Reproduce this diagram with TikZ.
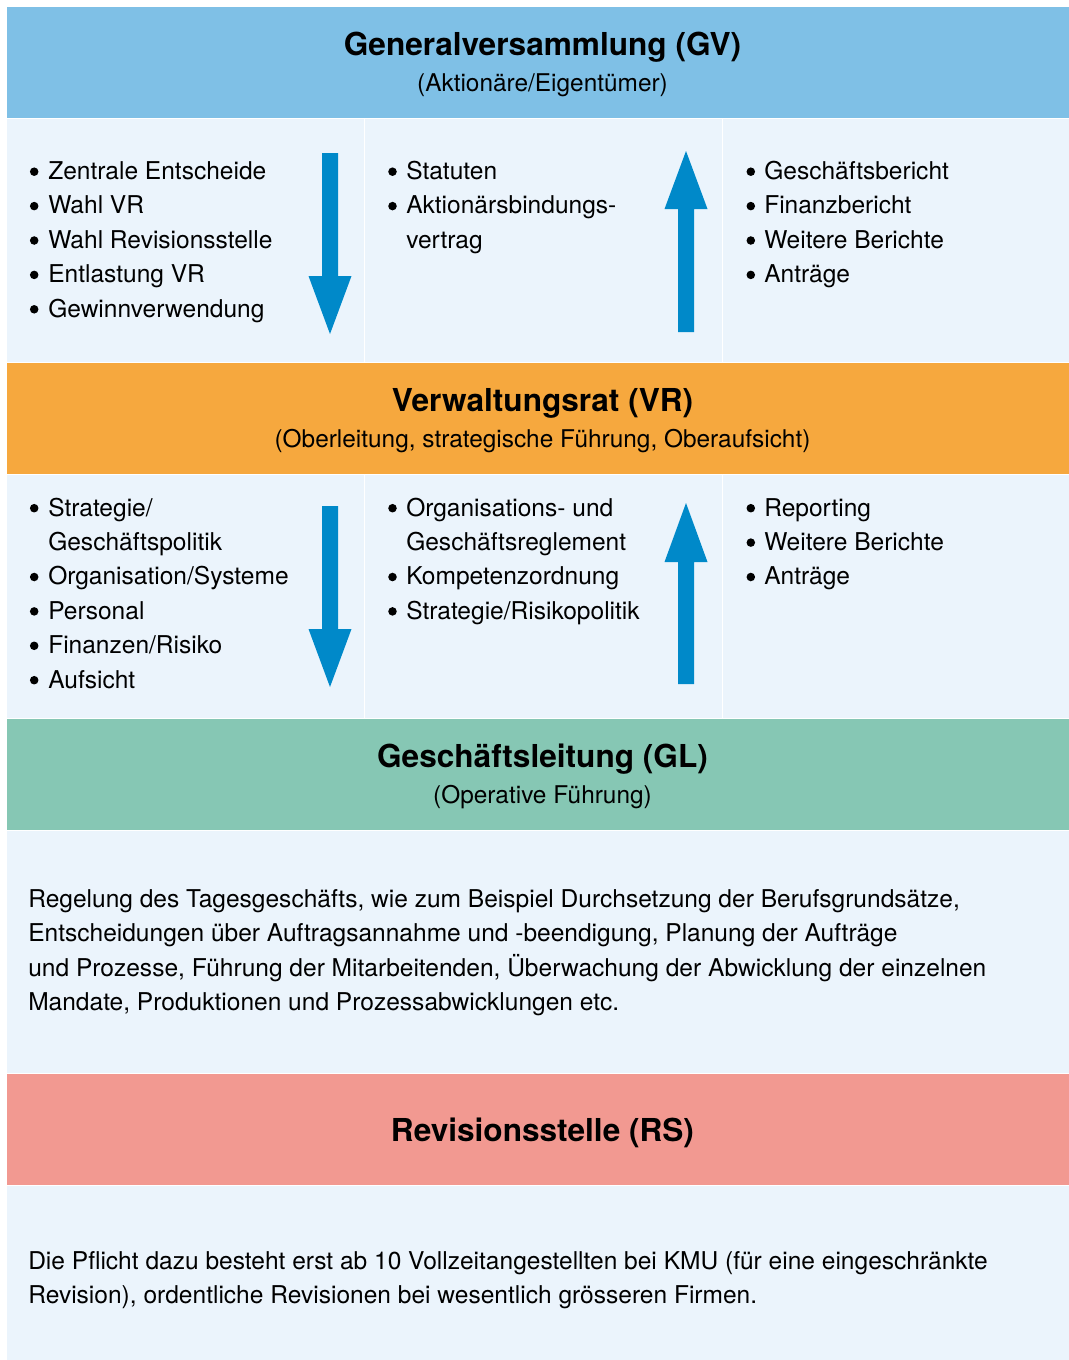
\documentclass[tikz,border=0pt]{standalone}
\usepackage{fontspec}
\setmainfont{TeX Gyre Heros}
\usepackage{tikz}

\definecolor{gvblue}{HTML}{7FC0E6}
\definecolor{vrorange}{HTML}{F6A83E}
\definecolor{glgreen}{HTML}{86C7B4}
\definecolor{rsred}{HTML}{F29991}
\definecolor{cellbg}{HTML}{EBF4FC}
\definecolor{arrowblue}{HTML}{0089C9}

\tikzset{
  band/.style={draw=white, line width=0.75pt},
  cell/.style={fill=cellbg, draw=white, line width=0.75pt},
  title/.style={font=\fontsize{23.7}{28}\selectfont\bfseries, inner sep=0pt, anchor=base},
  subtitle/.style={font=\fontsize{18.3}{25.8}\selectfont, inner sep=0pt, anchor=base},
  lst/.style={font=\fontsize{18.4}{25.8}\selectfont, inner sep=0pt, anchor=base west},
  dot/.style={fill=black},
  bigarrow/.style={fill=arrowblue},
}

\begin{document}
\begin{tikzpicture}[x=0.75pt, y=-0.75pt]

\clip (0,0) rectangle (1069,1360);
\fill[white] (0,0) rectangle (1069,1360);

%% bands and cells
\filldraw[band, fill=gvblue] (6,6) rectangle (1080,118);      %% GV
\filldraw[cell] (6,118) rectangle (364,362);
\filldraw[cell] (364,118) rectangle (722,362);
\filldraw[cell] (722,118) rectangle (1080,362);
\filldraw[band, fill=vrorange] (6,362) rectangle (1080,474);  %% VR
\filldraw[cell] (6,474) rectangle (364,718);
\filldraw[cell] (364,474) rectangle (722,718);
\filldraw[cell] (722,474) rectangle (1080,718);
\filldraw[band, fill=glgreen] (6,718) rectangle (1080,830);   %% GL
\filldraw[cell] (6,830) rectangle (1080,1073);
\filldraw[band, fill=rsred] (6,1073) rectangle (1080,1185);   %% RS
\filldraw[cell] (6,1185) rectangle (1080,1370);

%% headings
\node[title] (gvtitle) at (542.5,55) {Generalversammlung (GV)};
\node[subtitle] (gvsub) at (542.5,91.7) {(Aktionäre/Eigentümer)};
\node[title] (vrtitle) at (542.5,411) {Verwaltungsrat (VR)};
\node[subtitle] (vrsub) at (542.5,447.7) {(Oberleitung, strategische Führung, Oberaufsicht)};
\node[title] (gltitle) at (542.5,767) {Geschäftsleitung (GL)};
\node[subtitle] (glsub) at (542.5,803.7) {(Operative Führung)};
\node[title] (rstitle) at (542.5,1141) {Revisionsstelle (RS)};

%% lists between GV and VR
\node[lst] (gvleft) at (48,179.5) {\begin{tabular}[t]{@{}l@{}}
  Zentrale Entscheide\\
  Wahl VR\\
  Wahl Revisionsstelle\\
  Entlastung VR\\
  Gewinnverwendung
\end{tabular}};
\node[lst] (gvmid) at (406,179.5) {\begin{tabular}[t]{@{}l@{}}
  Statuten\\
  Aktionärsbindungs-\\
  vertrag
\end{tabular}};
\node[lst] (gvright) at (764,179.5) {\begin{tabular}[t]{@{}l@{}}
  Geschäftsbericht\\
  Finanzbericht\\
  Weitere Berichte\\
  Anträge
\end{tabular}};

%% lists between VR and GL
\node[lst] (vrleft) at (48,516) {\begin{tabular}[t]{@{}l@{}}
  Strategie/\\
  Geschäftspolitik\\
  Organisation/Systeme\\
  Personal\\
  Finanzen/Risiko\\
  Aufsicht
\end{tabular}};
\node[lst] (vrmid) at (406,516) {\begin{tabular}[t]{@{}l@{}}
  Organisations- und\\
  Geschäftsreglement\\
  Kompetenzordnung\\
  Strategie/Risikopolitik
\end{tabular}};
\node[lst] (vrright) at (764,516) {\begin{tabular}[t]{@{}l@{}}
  Reporting\\
  Weitere Berichte\\
  Anträge
\end{tabular}};

%% bullets
\fill[dot] (34.2,171.7) circle (3.2pt);   %% Zentrale Entscheide
\fill[dot] (34.2,206.1) circle (3.2pt);   %% Wahl VR
\fill[dot] (34.2,240.5) circle (3.2pt);   %% Wahl Revisionsstelle
\fill[dot] (34.2,274.9) circle (3.2pt);   %% Entlastung VR
\fill[dot] (34.2,309.3) circle (3.2pt);   %% Gewinnverwendung
\fill[dot] (392.5,171.7) circle (3.2pt);  %% Statuten
\fill[dot] (392.5,206.1) circle (3.2pt);  %% Aktionaersbindungsvertrag
\fill[dot] (750.8,171.7) circle (3.2pt);  %% Geschaeftsbericht
\fill[dot] (750.8,206.1) circle (3.2pt);  %% Finanzbericht
\fill[dot] (750.8,240.5) circle (3.2pt);  %% Weitere Berichte
\fill[dot] (750.8,274.9) circle (3.2pt);  %% Antraege
\fill[dot] (34.2,508.2) circle (3.2pt);   %% Strategie
\fill[dot] (34.2,577.0) circle (3.2pt);   %% Organisation/Systeme
\fill[dot] (34.2,611.4) circle (3.2pt);   %% Personal
\fill[dot] (34.2,645.8) circle (3.2pt);   %% Finanzen/Risiko
\fill[dot] (34.2,680.2) circle (3.2pt);   %% Aufsicht
\fill[dot] (392.5,508.2) circle (3.2pt);  %% Organisations- und ...
\fill[dot] (392.5,577.0) circle (3.2pt);  %% Kompetenzordnung
\fill[dot] (392.5,611.4) circle (3.2pt);  %% Strategie/Risikopolitik
\fill[dot] (750.8,508.2) circle (3.2pt);  %% Reporting
\fill[dot] (750.8,542.6) circle (3.2pt);  %% Weitere Berichte
\fill[dot] (750.8,577.0) circle (3.2pt);  %% Antraege

%% text blocks
\node[lst] (gltext) at (28,907.5) {\begin{tabular}[t]{@{}l@{}}
  Regelung des Tagesgeschäfts, wie zum Beispiel Durchsetzung der Berufsgrundsätze,\\
  Entscheidungen über Auftragsannahme und -beendigung, Planung der Aufträge\\
  und Prozesse, Führung der Mitarbeitenden, Überwachung der Abwicklung der einzelnen\\
  Mandate, Produktionen und Prozessabwicklungen etc.
\end{tabular}};
\node[lst] (rstext) at (28,1269) {\begin{tabular}[t]{@{}l@{}}
  Die Pflicht dazu besteht erst ab 10 Vollzeitangestellten bei KMU (für eine eingeschränkte\\
  Revision), ordentliche Revisionen bei wesentlich grösseren Firmen.
\end{tabular}};

%% arrows
\fill[bigarrow] (322,153) -- (338,153) -- (338,276) -- (351.5,276) -- (330,334)
  -- (308.5,276) -- (322,276) -- cycle;                        %% GV -> VR
\fill[bigarrow] (678,332) -- (694,332) -- (694,209) -- (707.5,209) -- (686,151)
  -- (664.5,209) -- (678,209) -- cycle;                        %% VR -> GV
\fill[bigarrow] (322,506) -- (338,506) -- (338,629) -- (351.5,629) -- (330,687)
  -- (308.5,629) -- (322,629) -- cycle;                        %% VR -> GL
\fill[bigarrow] (678,684) -- (694,684) -- (694,562) -- (707.5,562) -- (686,503)
  -- (664.5,562) -- (678,562) -- cycle;                        %% GL -> VR

\end{tikzpicture}
\end{document}
